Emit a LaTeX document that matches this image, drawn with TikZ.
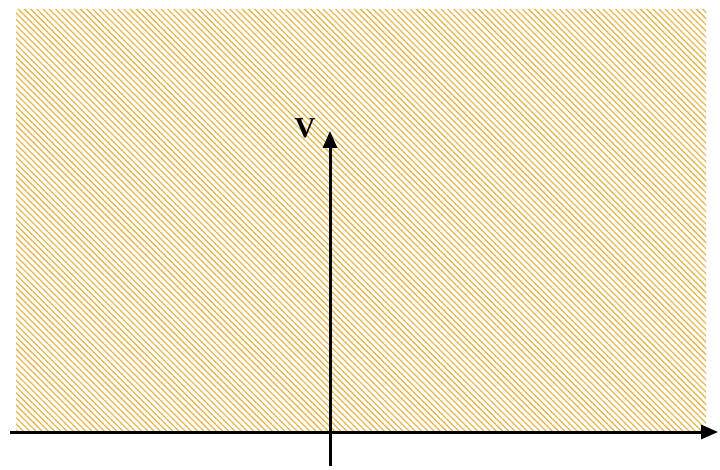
\documentclass[tikz,border=0pt]{standalone}
\usepackage{fontspec}
\setmainfont{Liberation Serif}
\usetikzlibrary{patterns.meta,arrows.meta}
\definecolor{hatch}{RGB}{228,184,80}
\tikzset{
  axis/.style={line width=3bp,-{Triangle[length=17bp,width=14bp]}},
  hatchfill/.style={pattern={Lines[angle=-45,distance=4.4bp,line width=1.3bp]},pattern color=hatch}
}
\begin{document}
\begin{tikzpicture}[x=1bp,y=-1bp]
\useasboundingbox (0,0) rectangle (720,470);
\fill[hatchfill] (16,10) rectangle (706,432);
\coordinate (hstart) at (10,432);
\coordinate (hend) at (718,432);
\coordinate (vstart) at (330,466);
\coordinate (vend) at (330,131);
\draw[axis] (hstart) -- (hend);
\draw[axis] (vstart) -- (vend);
\node[font=\bfseries\fontsize{29}{29}\selectfont,inner sep=0pt] (vlabel) at (305,128) {V};
\end{tikzpicture}
\end{document}
